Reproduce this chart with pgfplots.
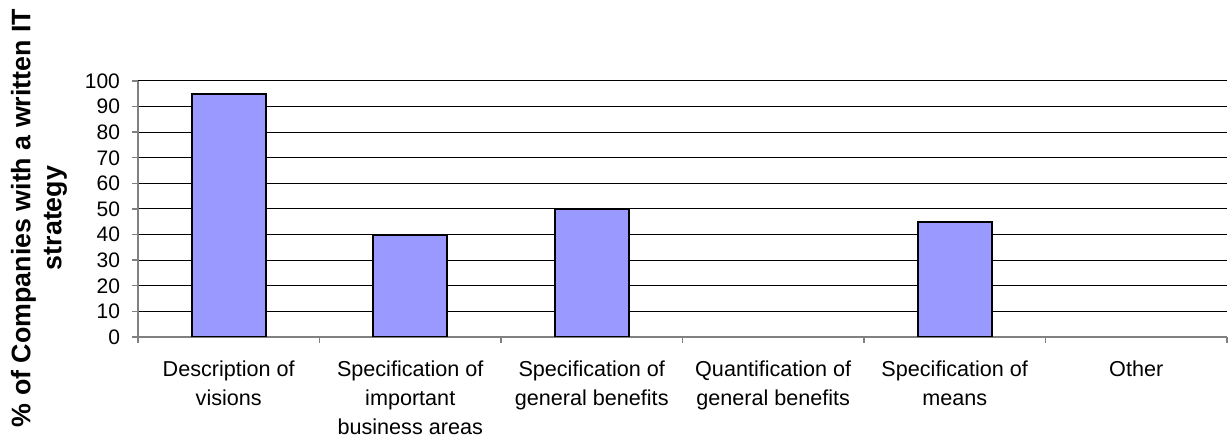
\documentclass[border=0pt]{standalone}
\usepackage{fontspec}
\setmainfont{Liberation Sans}
\usepackage{pgfplots}
\pgfplotsset{compat=1.18}
\usetikzlibrary{calc}
\definecolor{barblue}{HTML}{9999FF}
\definecolor{axgray}{HTML}{808080}

\begin{document}
\begin{tikzpicture}
\begin{axis}[
  scale only axis,
  width=544.5pt, height=128pt,
  xmin=-0.5, xmax=5.5, ymin=0, ymax=100,
  ytick={0,10,...,100},
  xtick={-0.5,0.5,...,5.5},
  xticklabels={},
  extra x ticks={0,1,2,3,4,5},
  extra x tick labels={Description of\\visions,
    Specification of\\important\\business areas,
    Specification of\\general benefits,
    Quantification of\\general benefits,
    Specification of\\means,
    Other},
  extra x tick style={major tick length=0pt},
  axis x line*=bottom, axis y line*=left,
  axis line style={axgray, line width=0.7pt},
  tick align=outside,
  major tick length=3pt,
  tick style={axgray, line width=0.7pt},
  ymajorgrids, grid style={black, line width=0.5pt},
  /pgf/number format/assume math mode=true,
  yticklabel style={font=\fontsize{10.5}{12}\selectfont, xshift=-2.5pt},
  xticklabel style={font=\fontsize{10.8}{14.5}\selectfont, align=center, anchor=north, yshift=-8.5pt},
]
\coordinate (sw) at (rel axis cs:0,0);
\addplot[ybar, bar width=37pt, fill=barblue, draw=black, line width=1pt]
  coordinates {(0,95) (1,40) (2,50) (4,45)};
\end{axis}
\node[rotate=90, align=center, font=\fontsize{13.4}{15.5}\selectfont\bfseries]
  at ($(sw)+(-49.5pt,59.5pt)$) {\% of Companies with a written IT\\strategy};
\pgfresetboundingbox
\path ($(sw)+(-69pt,-50pt)$) rectangle ($(sw)+(545pt,168.5pt)$);
\end{tikzpicture}
\end{document}
